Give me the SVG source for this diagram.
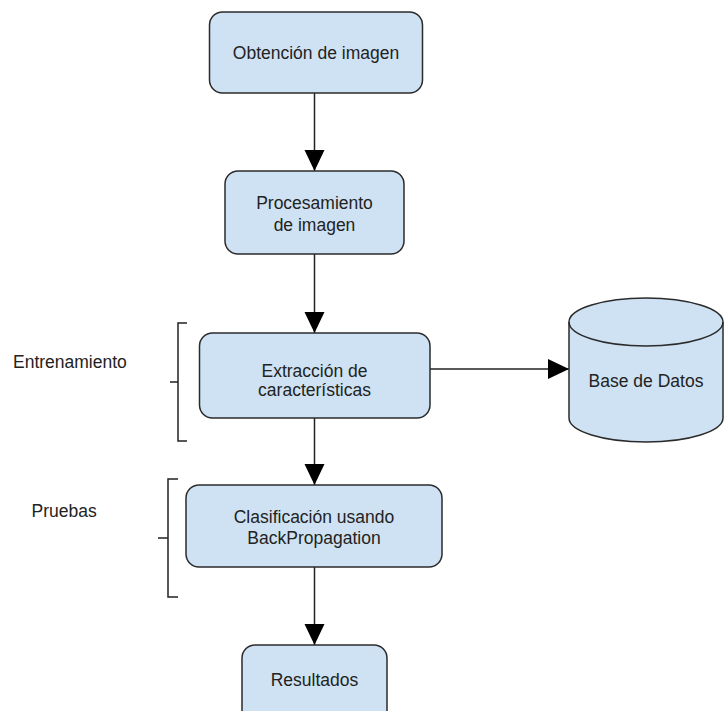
<svg xmlns="http://www.w3.org/2000/svg" width="725" height="711" viewBox="0 0 725 711">
<style>
.box{fill:#cfe2f3;stroke:#2b2b2b;stroke-width:1.5}
.t{font-family:"Liberation Sans",Arial,sans-serif;font-size:17.5px;fill:#222;text-anchor:middle}
.l{font-family:"Liberation Sans",Arial,sans-serif;font-size:17.5px;fill:#222}
.c{stroke:#222;stroke-width:1.5;fill:none}
</style>
<defs>
<marker id="ah" markerUnits="userSpaceOnUse" markerWidth="22" markerHeight="22" refX="21" refY="10" orient="auto">
<polygon points="0,0 21,10 0,20" fill="#000"/>
</marker>
</defs>
<rect width="725" height="711" fill="#fff"/>
<g id="connectors">
<line class="c" x1="314.5" y1="93" x2="314.5" y2="171" marker-end="url(#ah)"/>
<line class="c" x1="314.5" y1="254" x2="314.5" y2="333" marker-end="url(#ah)"/>
<line class="c" x1="314.5" y1="418" x2="314.5" y2="485" marker-end="url(#ah)"/>
<line class="c" x1="314.5" y1="567" x2="314.5" y2="645" marker-end="url(#ah)"/>
<line class="c" x1="430" y1="369" x2="569" y2="369" marker-end="url(#ah)"/>
</g>
<g id="n1">
<rect class="box" x="209.5" y="12" width="213" height="81" rx="13"/>
<text class="t" x="316" y="59">Obtención de imagen</text>
</g>
<g id="n2">
<rect class="box" x="225" y="171" width="179" height="83" rx="13"/>
<text class="t" x="314.5" y="209">Procesamiento</text>
<text class="t" x="314.5" y="231">de imagen</text>
</g>
<g id="n3">
<rect class="box" x="199.5" y="333" width="230.5" height="85" rx="13"/>
<text class="t" x="314.5" y="377">Extracción de</text>
<text class="t" x="314.5" y="396">características</text>
</g>
<g id="n4">
<rect class="box" x="186" y="485" width="256" height="82" rx="13"/>
<text class="t" x="314" y="523">Clasificación usando</text>
<text class="t" x="314" y="544">BackPropagation</text>
</g>
<g id="n5">
<rect class="box" x="242" y="645" width="145" height="80" rx="13"/>
<text class="t" x="314.5" y="686">Resultados</text>
</g>
<g id="db">
<path class="box" d="M569,322 L569,418 A77,24 0 0 0 723,418 L723,322 A77,24 0 0 0 569,322 Z"/>
<path class="box" style="fill:none" d="M569,322 A77,24 0 0 0 723,322"/>
<text class="t" x="646" y="387">Base de Datos</text>
</g>
<g id="entrenamiento">
<path class="c" d="M187,323 L178,323 L178,441 L187,441 M170,382 L178,382"/>
<text class="l" x="13" y="368">Entrenamiento</text>
</g>
<g id="pruebas">
<path class="c" d="M178,479 L168,479 L168,597 L178,597 M158,538 L168,538"/>
<text class="l" x="31.5" y="517">Pruebas</text>
</g>
</svg>
